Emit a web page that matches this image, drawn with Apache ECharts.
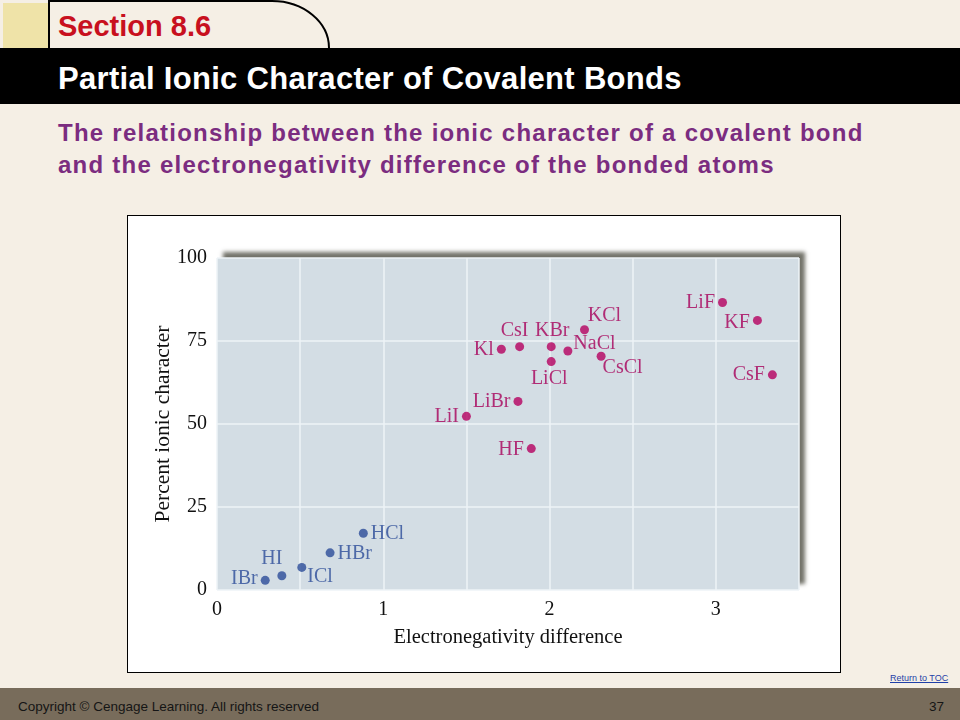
<!DOCTYPE html>
<html>
<head>
<meta charset="utf-8">
<script src="https://cdn.jsdelivr.net/npm/echarts@6/dist/echarts.min.js"></script>
<style>
  html, body { margin:0; padding:0; }
  body { width:960px; height:720px; position:relative; overflow:hidden; background:#F5EFE5; font-family:"Liberation Sans", Arial, sans-serif; }
  #yellow { position:absolute; left:3px; top:3px; width:45px; height:45px; background:#EFE3A8; }
  #topsvg { position:absolute; left:0; top:0; }
  #band { position:absolute; left:0; top:48px; width:960px; height:56px; background:#000; }
  #section { position:absolute; left:58px; top:10px; font-size:29px; font-weight:bold; color:#C8101E; white-space:nowrap; }
  #title { position:absolute; left:58px; top:61px; font-size:31px; font-weight:bold; color:#fff; white-space:nowrap; letter-spacing:0.3px; }
  #sub { position:absolute; left:58px; top:117px; font-size:24px; font-weight:bold; color:#7B2C80; line-height:32px; white-space:nowrap; letter-spacing:1.25px; }
  #box { position:absolute; left:127px; top:215px; width:712px; height:456px; background:#fff; border:1px solid #000; }
  #chart { position:absolute; left:0; top:0; width:712px; height:456px; }
  #toc { position:absolute; left:890px; top:673px; font-size:9px; color:#1F3FA8; text-decoration:underline; white-space:nowrap; }
  #footer { position:absolute; left:0; top:688px; width:960px; height:32px; background:#786C5B; }
  #copy { position:absolute; left:18px; top:699px; font-size:13.5px; color:#151515; white-space:nowrap; }
  #page { position:absolute; left:929px; top:699px; font-size:13.5px; color:#151515; }
</style>
</head>
<body>
<div id="yellow"></div>
<svg id="topsvg" width="960" height="60">
  <line x1="49" y1="0" x2="49" y2="48" stroke="#000" stroke-width="2"/>
  <path d="M49 1 L272 1 A57 47 0 0 1 329 48" fill="none" stroke="#000" stroke-width="2"/>
</svg>
<div id="band"></div>
<div id="section">Section 8.6</div>
<div id="title">Partial Ionic Character of Covalent Bonds</div>
<div id="sub">The relationship between the ionic character of a covalent bond<br>and the electronegativity difference of the bonded atoms</div>
<div id="box"><div id="chart"></div></div>
<div id="toc">Return to TOC</div>
<div id="footer"></div>
<div id="copy">Copyright © Cengage Learning. All rights reserved</div>
<div id="page">37</div>
<script>
// Ionic compounds (magenta)
const ionicNames = ['LiF','KF','CsF','KCl','NaCl','CsCl','KBr','LiCl','CsI','Kl','LiBr','LiI','HF'];
const ionicX     = [3.04, 3.25, 3.34, 2.21, 2.11, 2.31, 2.01, 2.01, 1.82, 1.71, 1.81, 1.50, 1.89];
const ionicY     = [86.6, 81.2, 64.8, 78.4, 72.0, 70.4, 73.3, 68.8, 73.3, 72.5, 56.8, 52.3, 42.6];
// Covalent compounds (blue)
const covNames = ['HCl','HBr','ICl','HI','IBr'];
const covX     = [0.88, 0.68, 0.51, 0.39, 0.29];
const covY     = [17.1, 11.2, 6.8, 4.3, 2.9];
// Axis ticks
const xTicks = [0, 1, 2, 3];
const yTicks = [0, 25, 50, 75, 100];

// Label placement (style only)
const ionicLabelPos = {
  LiF:['left',[0,0]], KF:['left',[0,2]], CsF:['left',[0,0]], KCl:['top',[20,4]],
  NaCl:['right',[-2,-7]], CsCl:['right',[-6,11]], KBr:['top',[1,2]], LiCl:['bottom',[-2,0]],
  CsI:['top',[-5,2]], Kl:['left',[0,0]], LiBr:['left',[0,0]], LiI:['left',[0,0]], HF:['left',[0,1]]
};
const covLabelPos = {
  HCl:['right',[0,1]], HBr:['right',[0,1]], ICl:['right',[-2,9]], HI:['top',[-10,1]], IBr:['left',[0,-2]]
};

function build(names, xs, ys, pos) {
  return names.map((n, i) => ({
    name: n,
    value: [xs[i], ys[i]],
    label: { position: pos[n][0], offset: pos[n][1] }
  }));
}

const serif = '"Liberation Serif", "Times New Roman", serif';
const chart = echarts.init(document.getElementById('chart'), null, { renderer: 'canvas' });
chart.setOption({
  animation: false,
  grid: {
    left: 89, top: 42, width: 582, height: 332,
    show: true, backgroundColor: '#D3DDE4', borderWidth: 0,
    shadowColor: 'rgba(90,90,80,0.85)', shadowBlur: 4, shadowOffsetX: 6, shadowOffsetY: -6
  },
  xAxis: {
    type: 'value', min: 0, max: 3.5, interval: 0.5,
    name: 'Electronegativity difference', nameLocation: 'middle', nameGap: 37,
    nameTextStyle: { fontFamily: serif, fontSize: 20.5, color: '#111' },
    axisLine: { show: false }, axisTick: { show: false },
    axisLabel: {
      fontFamily: serif, fontSize: 20, color: '#111', margin: 10,
      formatter: v => xTicks.includes(v) ? String(v) : ''
    },
    splitLine: { show: true, lineStyle: { color: '#EEF3F7', width: 1.5 } }
  },
  yAxis: {
    type: 'value', min: 0, max: 100, interval: 25,
    name: 'Percent ionic character', nameLocation: 'middle', nameGap: 43, nameMoveOverlap: false,
    nameTextStyle: { fontFamily: serif, fontSize: 21.5, color: '#111' },
    axisLine: { show: false }, axisTick: { show: false },
    axisLabel: {
      fontFamily: serif, fontSize: 20, color: '#111', margin: 10,
      formatter: v => yTicks.includes(v) ? String(v) : ''
    },
    splitLine: { show: true, lineStyle: { color: '#EEF3F7', width: 1.5 } }
  },
  series: [
    {
      type: 'scatter', symbolSize: 9,
      itemStyle: { color: '#B5005F' },
      label: { show: true, formatter: '{b}', fontFamily: serif, fontSize: 20, color: '#A8005A', distance: 3 },
      data: build(ionicNames, ionicX, ionicY, ionicLabelPos)
    },
    {
      type: 'scatter', symbolSize: 9,
      itemStyle: { color: '#2C4C98' },
      label: { show: true, formatter: '{b}', fontFamily: serif, fontSize: 20, color: '#2C4C98', distance: 3 },
      data: build(covNames, covX, covY, covLabelPos)
    }
  ]
});
</script>
</body>
</html>
